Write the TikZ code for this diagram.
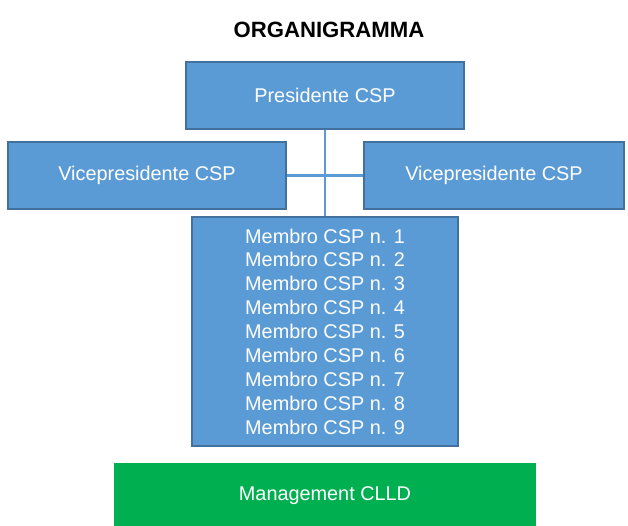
\documentclass[tikz,border=0pt]{standalone}
\usepackage{fontspec}
\setmainfont{Liberation Sans}
\definecolor{boxblue}{HTML}{5B9BD5}
\definecolor{boxedge}{HTML}{41719C}
\definecolor{boxgreen}{HTML}{00B050}
\tikzset{
  role/.style = {draw = boxedge, fill = boxblue, text = white, line width = 0.6pt,
                 minimum width = 278*0.02cm, minimum height = 67*0.02cm, inner sep = 0pt,
                 font = \fontsize{11.3}{13.6}\selectfont, align = center},
  link/.style = {draw = boxblue, line width = 1.4pt}
}
\begin{document}
\begin{tikzpicture}[x = 0.02cm, y = -0.02cm]
    \useasboundingbox (0, 0) rectangle (628, 525);

    % Title
    \node[font = \fontsize{12.6}{15}\selectfont\bfseries] (title) at (329, 30) {ORGANIGRAMMA};

    % Boxes
    \node[role] (pres) at (325, 95.5) {Presidente CSP};
    \node[role] (vice1) at (147, 175.5) {Vicepresidente CSP};
    \node[role, minimum width = 260*0.02cm] (vice2) at (494, 175.5) {Vicepresidente CSP};
    \node[role, minimum width = 266*0.02cm, minimum height = 229*0.02cm] (membri) at (325, 331.5)
        {Membro CSP n. 1\\Membro CSP n. 2\\Membro CSP n. 3\\Membro CSP n. 4\\Membro CSP n. 5\\%
         Membro CSP n. 6\\Membro CSP n. 7\\Membro CSP n. 8\\Membro CSP n. 9};
    \node[role, draw = boxgreen, fill = boxgreen, minimum width = 420*0.02cm,
          minimum height = 64*0.02cm] (mgmt) at (325, 496) {Management CLLD};

    % Links between the boxes
    \draw[link] (pres.south) -- (membri.north);
    \draw[link] (vice1.east) -- (vice2.west);
\end{tikzpicture}
\end{document}
